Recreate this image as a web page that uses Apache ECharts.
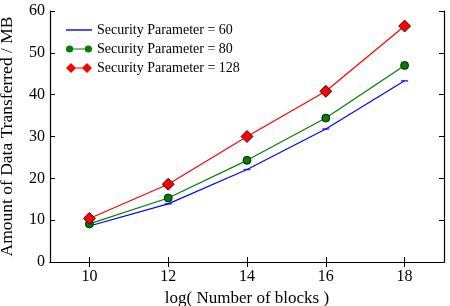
<!DOCTYPE html>
<html><head><meta charset="utf-8">
<script src="https://cdn.jsdelivr.net/npm/echarts@6/dist/echarts.min.js"></script>
<style>html,body{margin:0;padding:0;background:#fff}#c{width:450px;height:306px}</style>
</head><body><div id="c"></div>
<script>
const xValues = [10, 12, 14, 16, 18];
const xTicks = [10, 12, 14, 16, 18];
const yTicks = [0, 10, 20, 30, 40, 50, 60];
const sec60 = [8.6, 13.9, 22.1, 31.8, 43.3];
const sec80 = [9.1, 15.3, 24.3, 34.4, 47.0];
const sec128 = [10.4, 18.6, 30.0, 40.8, 56.4];
const names = ['Security Parameter = 60', 'Security Parameter = 80', 'Security Parameter = 128'];

const font = 'Liberation Serif, DejaVu Serif, serif';
const pair = arr => xValues.map((x, i) => [x, arr[i]]);
const chart = echarts.init(document.getElementById('c'), null, {renderer: 'canvas'});
const axLine = {show: true, lineStyle: {color: '#000', width: 1.2}};
// legend icons (26 x 12 box)
const iconLine = 'path://M0,5.3L26,5.3L26,6.7L0,6.7Z';
const iconCircle = 'path://M0,6A3.6,3.6 0 1 1 7.2,6A3.6,3.6 0 1 1 0,6ZM7,5.4L19,5.4L19,6.6L7,6.6ZM18.8,6A3.6,3.6 0 1 1 26,6A3.6,3.6 0 1 1 18.8,6Z';
const iconDiamond = 'path://M0,6L5,1L10,6L5,11ZM9,5.4L17,5.4L17,6.6L9,6.6ZM16,6L21,1L26,6L21,11Z';
chart.setOption({
  animation: false,
  grid: {left: 50, right: 6, top: 11, bottom: 44, outerBoundsMode: 'none', containLabel: false},
  legend: {
    left: 61, top: 18, orient: 'vertical', itemGap: 5, itemWidth: 26, itemHeight: 12,
    textStyle: {fontFamily: font, fontSize: 14, color: '#000'},
    data: [
      {name: names[0], icon: iconLine, itemStyle: {borderWidth: 0}},
      {name: names[1], icon: iconCircle, itemStyle: {borderWidth: 0}},
      {name: names[2], icon: iconDiamond, itemStyle: {borderWidth: 0}}
    ]
  },
  xAxis: [{
    type: 'value', min: 9, max: 19, position: 'bottom',
    name: 'log( Number of blocks )', nameLocation: 'middle', nameGap: 26,
    nameTextStyle: {fontFamily: font, fontSize: 17, color: '#000'},
    axisLine: axLine,
    axisTick: {inside: true, length: 5, customValues: xTicks, lineStyle: {color: '#000'}},
    axisLabel: {customValues: xTicks, fontFamily: font, fontSize: 16, color: '#000', margin: 7},
    splitLine: {show: false}
  }, {
    type: 'value', min: 9, max: 19, position: 'top',
    axisLine: axLine,
    axisTick: {inside: true, length: 5, customValues: xTicks, lineStyle: {color: '#000'}},
    axisLabel: {show: false},
    splitLine: {show: false}
  }],
  yAxis: [{
    type: 'value', min: 0, max: 60, interval: 10, position: 'left',
    name: 'Amount of Data Transferred / MB', nameLocation: 'middle', nameGap: 34,
    nameTextStyle: {fontFamily: font, fontSize: 17.5, color: '#000'},
    axisLine: axLine,
    axisTick: {inside: true, length: 5, lineStyle: {color: '#000'}},
    axisLabel: {fontFamily: font, fontSize: 16, color: '#000', margin: 5},
    splitLine: {show: false}
  }, {
    type: 'value', min: 0, max: 60, interval: 10, position: 'right',
    axisLine: axLine,
    axisTick: {inside: true, length: 5, lineStyle: {color: '#000'}},
    axisLabel: {show: false},
    splitLine: {show: false}
  }],
  series: [{
    name: names[0], type: 'line', data: pair(sec60),
    symbol: 'none',
    lineStyle: {color: '#0000ff', width: 1.2},
    itemStyle: {color: '#0000ff'}
  }, {
    name: names[0] + ' markers', type: 'scatter', data: pair(sec60),
    symbol: 'rect', symbolSize: [7, 1.5],
    itemStyle: {color: '#0000ff'}
  }, {
    name: names[1], type: 'line', data: pair(sec80),
    symbol: 'circle', symbolSize: 8,
    lineStyle: {color: '#008000', width: 1.2},
    itemStyle: {color: '#008000', borderColor: '#000', borderWidth: 0.8}
  }, {
    name: names[2], type: 'line', data: pair(sec128),
    symbol: 'diamond', symbolSize: 12,
    lineStyle: {color: '#ff0000', width: 1.2},
    itemStyle: {color: '#ff0000', borderColor: '#000', borderWidth: 0.8}
  }]
});
</script></body></html>
